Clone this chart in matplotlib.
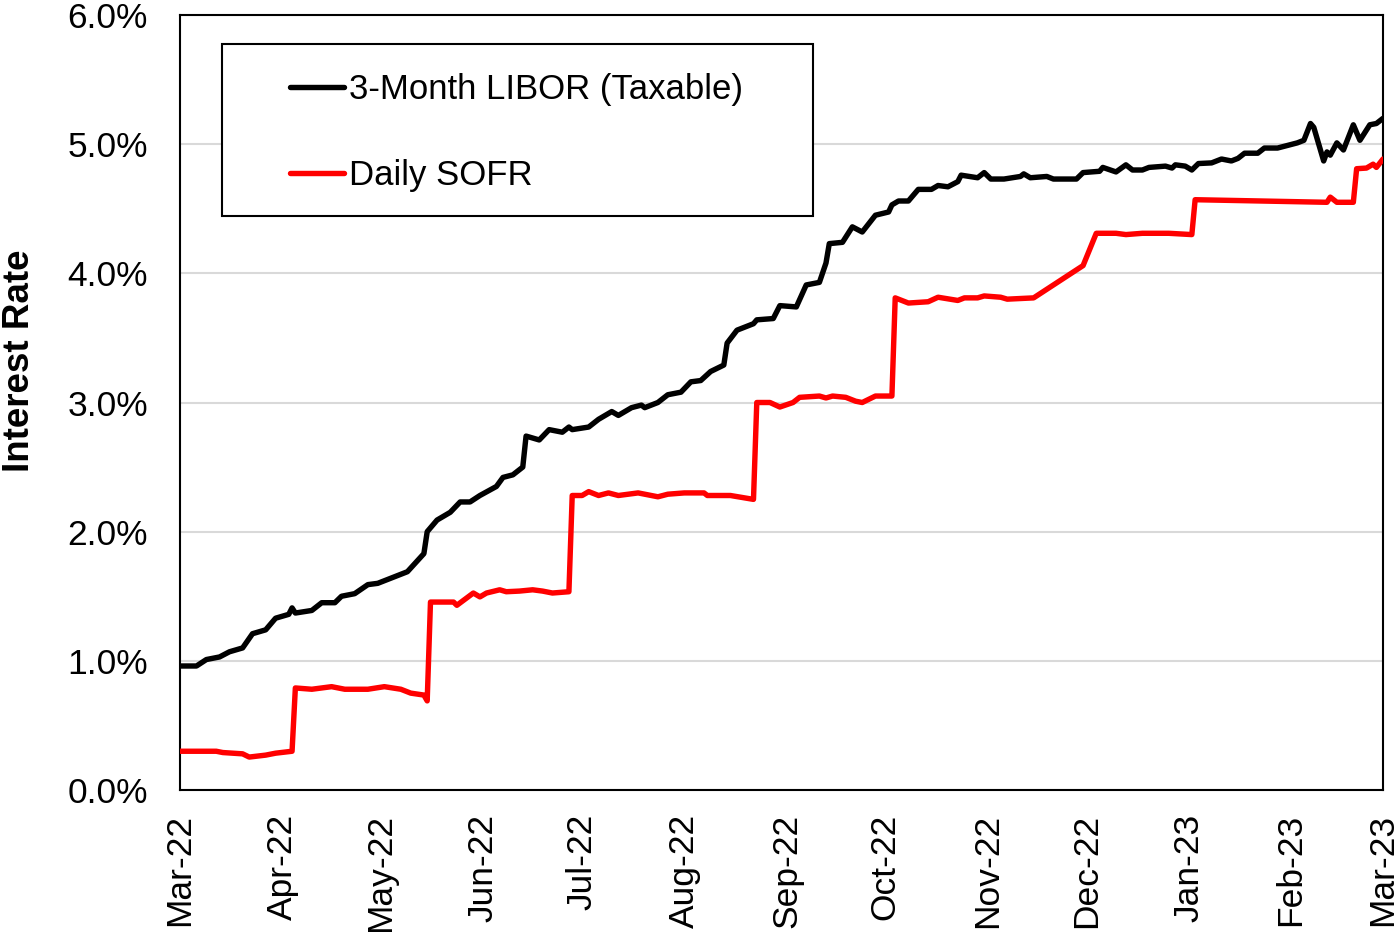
import numpy as np
import pandas as pd
import matplotlib
matplotlib.use("Agg")
import matplotlib.pyplot as plt
import matplotlib.dates as mdates
from matplotlib.patches import Rectangle

plt.rcParams['font.family'] = ['Liberation Sans', 'DejaVu Sans']

START = "2022-03-01"
END = "2023-03-01"

# days since 2022-03-01 and rate (%) for 3-Month LIBOR
libor_day = [0, 5, 8, 12, 15, 19, 22, 26, 29, 33, 34, 35, 40, 43, 47, 49, 53, 57, 60, 65,
             69, 74, 75, 78, 82, 85, 88, 91, 96, 98, 101, 104, 105, 109, 112, 116, 118, 119,
             124, 127, 131, 133, 137, 140, 141, 145, 148, 152, 155, 158, 161, 165, 166, 169,
             174, 175, 180, 182, 187, 190, 194, 196, 197, 201, 204, 207, 211, 215, 216, 218,
             221, 224, 228, 230, 233, 236, 237, 242, 244, 246, 250, 255, 256, 258, 263, 265,
             272, 274, 279, 280, 284, 287, 289, 292, 294, 299, 301, 302, 305, 307, 309, 313,
             316, 319, 321, 323, 327, 329, 333, 336, 339, 341, 343, 344, 347, 348, 349, 351,
             353, 356, 358, 361, 363, 365]
libor_rate = [0.96, 0.96, 1.01, 1.03, 1.07, 1.10, 1.21, 1.24, 1.33, 1.36, 1.41, 1.37, 1.39, 1.45,
              1.45, 1.50, 1.52, 1.59, 1.60, 1.65, 1.69, 1.83, 2.00, 2.09, 2.15, 2.23, 2.23, 2.28,
              2.35, 2.42, 2.44, 2.50, 2.74, 2.71, 2.79, 2.77, 2.81, 2.79, 2.81, 2.87, 2.93, 2.90,
              2.96, 2.98, 2.96, 3.00, 3.06, 3.08, 3.16, 3.17, 3.24, 3.29, 3.46, 3.56, 3.61, 3.64,
              3.65, 3.75, 3.74, 3.91, 3.93, 4.08, 4.23, 4.24, 4.36, 4.32, 4.45, 4.475, 4.53, 4.56,
              4.56, 4.65, 4.65, 4.68, 4.67, 4.71, 4.76, 4.74, 4.78, 4.73, 4.73, 4.75, 4.77, 4.74,
              4.75, 4.73, 4.73, 4.78, 4.79, 4.82, 4.785, 4.84, 4.80, 4.80, 4.82, 4.83, 4.815, 4.84,
              4.83, 4.80, 4.85, 4.855, 4.885, 4.87, 4.89, 4.93, 4.93, 4.97, 4.97, 4.99, 5.01, 5.03,
              5.16, 5.13, 4.87, 4.94, 4.915, 5.01, 4.955, 5.15, 5.03, 5.15, 5.16, 5.20]

# days since 2022-03-01 and rate (%) for Daily SOFR
sofr_day = [0, 11, 13, 19, 21, 26, 29, 34, 35, 40, 46, 50, 57, 62, 67, 70, 74, 75, 76, 83, 84,
            89, 91, 93, 97, 99, 103, 107, 110, 113, 118, 119, 122, 124, 127, 130, 133, 139, 145,
            148, 153, 159, 160, 167, 174, 175, 179, 182, 186, 188, 194, 196, 198, 202, 205, 207,
            211, 216, 217, 221, 227, 230, 236, 238, 242, 244, 249, 251, 259, 274, 278, 284, 287,
            292, 300, 307, 308, 348, 349, 351, 356, 357, 360, 362, 363, 365]
sofr_rate = [0.30, 0.30, 0.29, 0.28, 0.255, 0.27, 0.285, 0.30, 0.79, 0.78, 0.80, 0.78, 0.78, 0.80,
             0.78, 0.75, 0.735, 0.69, 1.455, 1.455, 1.43, 1.525, 1.495, 1.525, 1.55, 1.535, 1.54,
             1.55, 1.54, 1.525, 1.535, 2.28, 2.28, 2.31, 2.28, 2.30, 2.28, 2.30, 2.27, 2.29, 2.30,
             2.30, 2.28, 2.28, 2.25, 3.00, 3.00, 2.965, 3.00, 3.04, 3.05, 3.035, 3.05, 3.04, 3.01,
             3.00, 3.05, 3.05, 3.81, 3.77, 3.78, 3.815, 3.79, 3.81, 3.81, 3.825, 3.815, 3.80, 3.81,
             4.06, 4.31, 4.31, 4.30, 4.31, 4.31, 4.30, 4.57, 4.55, 4.59, 4.55, 4.55, 4.81, 4.815,
             4.845, 4.82, 4.885]

libor_label = "3-Month LIBOR (Taxable)"
sofr_label = "Daily SOFR"
y_label = "Interest Rate"
y_ticks = [0, 1, 2, 3, 4, 5, 6]

base = pd.Timestamp(START)
libor_dates = base + pd.to_timedelta(libor_day, unit="D")
sofr_dates = base + pd.to_timedelta(sofr_day, unit="D")

fig = plt.figure(figsize=(14, 9.32), dpi=100)
ax = fig.add_axes([180 / 1400, 1 - 790 / 932, 1203 / 1400, 775 / 932])

ax.plot(libor_dates, libor_rate, color="black", lw=3.9, label=libor_label,
        solid_joinstyle="round", solid_capstyle="round", zorder=3)
ax.plot(sofr_dates, sofr_rate, color="#ff0000", lw=3.9, label=sofr_label,
        solid_joinstyle="round", solid_capstyle="round", zorder=3)

ax.set_xlim(pd.Timestamp(START), pd.Timestamp(END))
ax.set_ylim(0, 6)
ax.set_yticks(y_ticks)
ax.yaxis.set_major_formatter(matplotlib.ticker.FuncFormatter(lambda v, p: f"{v:.1f}%"))
ax.xaxis.set_major_locator(mdates.MonthLocator())
ax.xaxis.set_major_formatter(mdates.DateFormatter("%b-%y"))

ax.grid(axis="y", color="#d9d9d9", lw=1.5, zorder=0)
ax.set_axisbelow(True)
for s in ax.spines.values():
    s.set_color("black")
    s.set_linewidth(1.5)

ax.tick_params(axis="y", length=0, pad=23, labelsize=25.5)
ax.tick_params(axis="x", length=0, pad=17, labelsize=25.5, labelrotation=90)

ax.set_ylabel(y_label, fontsize=26.5, fontweight="bold")
ax.yaxis.set_label_coords(-0.119, (790 - 361) / 775)

# legend frame
x0 = (222 - 180) / 1203
x1 = (813 - 180) / 1203
y0 = (790 - 216) / 775
y1 = (790 - 44) / 775
ax.add_patch(Rectangle((x0, y0), x1 - x0, y1 - y0, transform=ax.transAxes,
                       facecolor="white", edgecolor="black", lw=1.5, zorder=4))
leg = ax.legend(loc="center left", bbox_to_anchor=((290 - 180) / 1203, (790 - 132.5) / 775),
                frameon=False, fontsize=25, handlelength=1.55, handletextpad=0.15,
                labelspacing=1.52, borderpad=0, borderaxespad=0)
leg.set_zorder(5)

fig.savefig("out.png", dpi=100)
